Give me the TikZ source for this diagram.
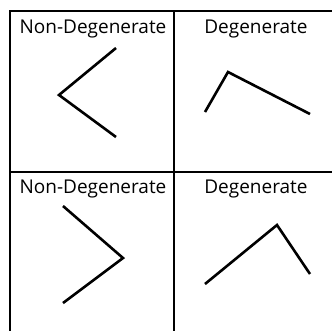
\documentclass[tikz,border=0pt]{standalone}
\usepackage{fontspec}
\setmainfont{Open Sans}
\begin{document}
\begin{tikzpicture}[x=1bp,y=-1bp,
  gridline/.style={line width=2.6bp},
  vline/.style={line width=2.6bp, line join=miter},
  lbl/.style={anchor=base, inner sep=0pt, font=\fontsize{19bp}{21bp}\selectfont}]
\useasboundingbox (0,0) rectangle (332,331);
\fill[white] (0,0) rectangle (332,331);
\draw[gridline] (10,331) -- (10,11) -- (332,11);
\draw[gridline] (174,11) -- (174,331);
\draw[gridline] (10,172) -- (332,172);
\node[lbl] (t1) at (93,33.5) {Non-Degenerate};
\node[lbl] (t2) at (256,33.5) {Degenerate};
\node[lbl] (t3) at (93,193.5) {Non-Degenerate};
\node[lbl] (t4) at (256,193.5) {Degenerate};
\draw[vline] (116,48) -- (59,95) -- (116,137);
\draw[vline] (205,112) -- (228,72) -- (310,114);
\draw[vline] (63,206) -- (123,258) -- (63,303);
\draw[vline] (205,284) -- (277,225) -- (310,274);
\end{tikzpicture}
\end{document}
